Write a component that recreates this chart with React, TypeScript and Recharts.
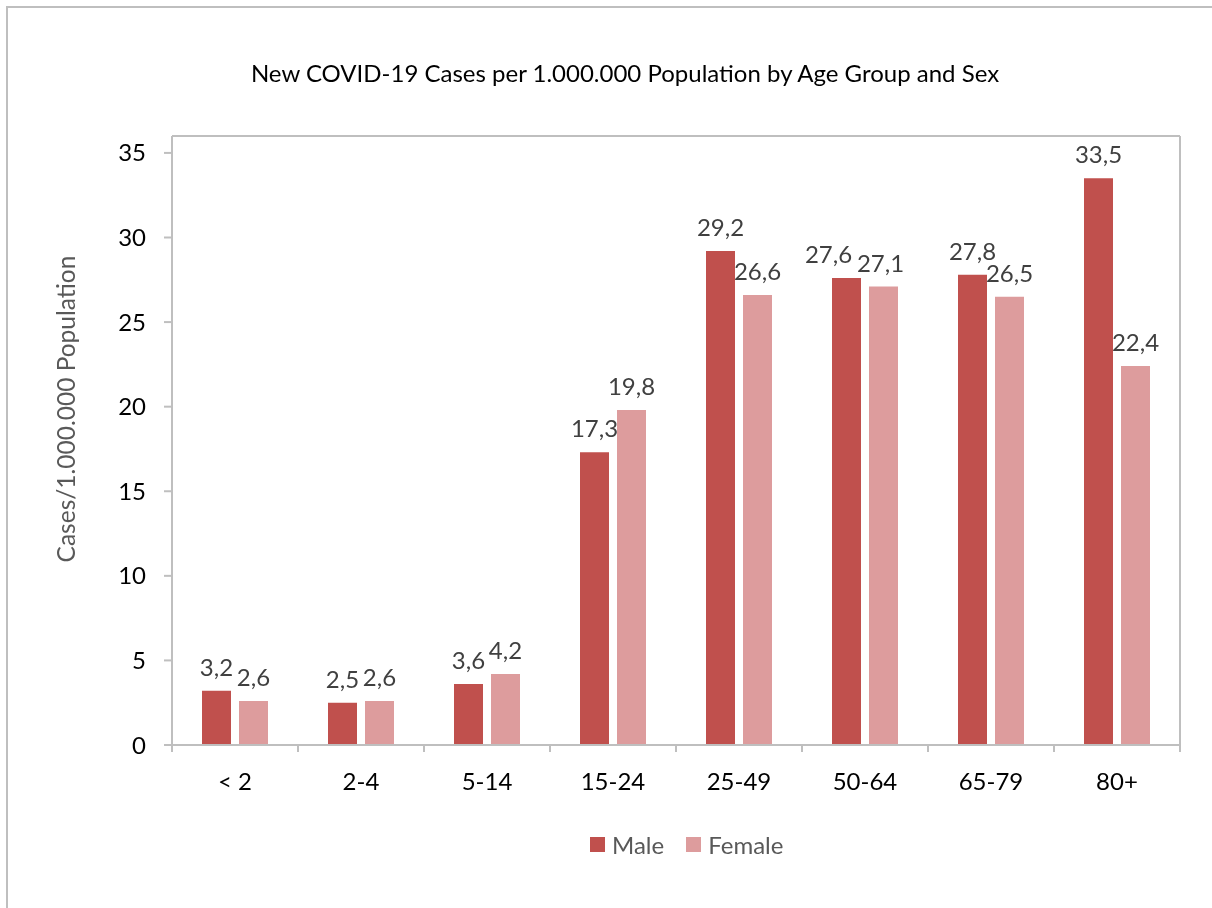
import React from 'react';
import { BarChart, Bar, XAxis, YAxis, Legend, LabelList } from 'recharts';

const categories = ['< 2', '2-4', '5-14', '15-24', '25-49', '50-64', '65-79', '80+'];
const maleValues = [3.2, 2.5, 3.6, 17.3, 29.2, 27.6, 27.8, 33.5];
const femaleValues = [2.6, 2.6, 4.2, 19.8, 26.6, 27.1, 26.5, 22.4];
const yTicks = [0, 5, 10, 15, 20, 25, 30, 35];
const boundTicks = [0, 1, 2, 3, 4, 5, 6, 7, 8];

const MALE = '#C0504D';
const FEMALE = '#DD9C9D';
const GRAY = '#BFBFBF';
const FONT = 'Lato, "Open Sans", sans-serif';

const data = categories.map((c, i) => ({ cat: c, male: maleValues[i], female: femaleValues[i], idx: i + 0.5 }));

const fmt = (v: any) => String(v).replace('.', ',');

// label nudges to avoid collisions (as in the original, where crowded labels are shifted)
const maleNudge: Record<number, number> = { 5: -18 };
const femaleNudge: Record<number, number> = { 5: -3 };

const makeLabel = (nudge: Record<number, number>) => (props: any) => {
  const { x, y, width, value, index } = props;
  const cx = Number(x) + Number(width) / 2 + (nudge[index] || 0);
  return (
    <text x={cx} y={Number(y) - 15} textAnchor="middle" fill="#404040" fontFamily={FONT} fontSize={24}>
      {fmt(value)}
    </text>
  );
};

const LegendContent = () => (
  <div style={{ position: 'absolute', left: 582, top: 822, display: 'flex', alignItems: 'center', fontFamily: FONT, fontSize: 24, color: '#595959', whiteSpace: 'nowrap' }}>
    <span style={{ display: 'inline-block', width: 15, height: 15, background: MALE, marginRight: 7 }} />
    <span style={{ marginRight: 22 }}>Male</span>
    <span style={{ display: 'inline-block', width: 15, height: 15, background: FEMALE, marginRight: 7 }} />
    <span>Female</span>
  </div>
);

const YLabel = () => (
  <text x={67} y={401} transform="rotate(-90, 67, 401)" textAnchor="middle" fill="#595959" fontFamily={FONT} fontSize={24.5}>
    Cases/1.000.000 Population
  </text>
);

export default function App() {
  return (
    <div style={{ position: 'relative', width: 1204, height: 900 }}>
      <div style={{ position: 'fixed', left: 6, top: 6, width: 1206, height: 902, borderLeft: `2px solid ${GRAY}`, borderTop: `2px solid ${GRAY}`, boxSizing: 'border-box' }} />
      <div style={{ position: 'absolute', left: 217, top: 50, width: 800, height: 30, lineHeight: '30px', textAlign: 'center', fontFamily: FONT, fontSize: 24, color: '#000' }}>
        New COVID-19 Cases per 1.000.000 Population by Age Group and Sex
      </div>
      <BarChart
        width={1204}
        height={900}
        data={data}
        margin={{ top: 127, right: 31, bottom: 161, left: 0 }}
        barSize={29}
        barGap={8}
      >
        <XAxis xAxisId="bounds" type="number" dataKey="idx" domain={[0, 8]} ticks={boundTicks} interval={0} tickFormatter={() => ''} tick={{ fontSize: 1 }} height={1} tickSize={7} axisLine={{ stroke: GRAY, strokeWidth: 2 }} tickLine={{ stroke: GRAY, strokeWidth: 2 }} allowDataOverflow />
        <XAxis xAxisId="cat" dataKey="cat" height={1} axisLine={false} tickLine={false} tickSize={0} tickMargin={27} interval={0} tick={{ fill: '#000', fontSize: 24, fontFamily: FONT }} />
        <XAxis xAxisId="top" orientation="top" dataKey="cat" height={1} tick={false} tickLine={false} axisLine={{ stroke: GRAY, strokeWidth: 2 }} />
        <YAxis yAxisId="left" domain={[0, 36]} ticks={yTicks} width={164} tickSize={8} tickMargin={18} interval={0} axisLine={{ stroke: GRAY, strokeWidth: 2 }} tickLine={{ stroke: GRAY, strokeWidth: 2 }} tick={{ fill: '#000', fontSize: 24, fontFamily: FONT }} label={<YLabel />} />
        <YAxis yAxisId="right" orientation="right" domain={[0, 36]} width={1} tick={false} tickLine={false} axisLine={{ stroke: GRAY, strokeWidth: 2 }} />
        <Legend content={<LegendContent />} wrapperStyle={{ position: 'absolute', left: 0, top: 0, width: 0, height: 0 }} />
        <Bar xAxisId="cat" yAxisId="left" dataKey="male" name="Male" fill={MALE} isAnimationActive={false}>
          <LabelList dataKey="male" content={makeLabel(maleNudge)} />
        </Bar>
        <Bar xAxisId="cat" yAxisId="left" dataKey="female" name="Female" fill={FEMALE} isAnimationActive={false}>
          <LabelList dataKey="female" content={makeLabel(femaleNudge)} />
        </Bar>
      </BarChart>
    </div>
  );
}
